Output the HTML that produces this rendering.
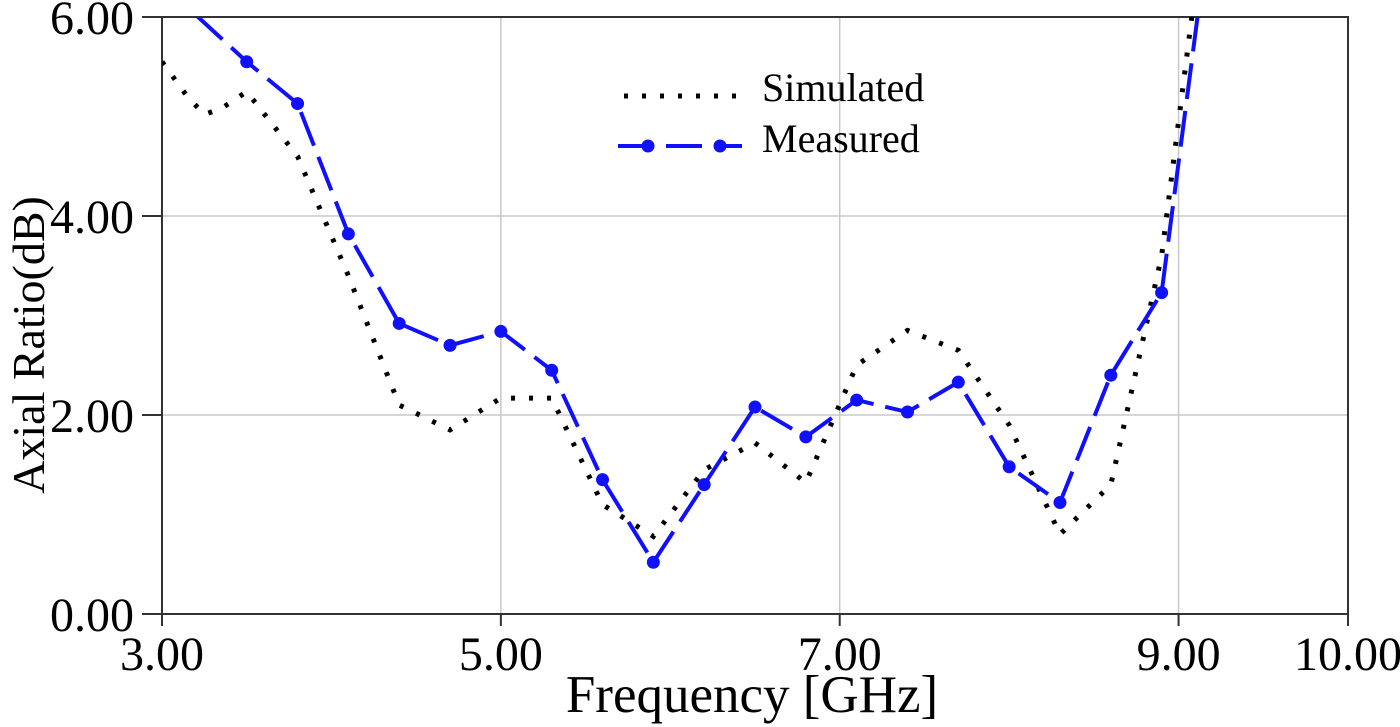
<!DOCTYPE html>
<html><head><meta charset="utf-8"><style>
body{margin:0;background:#fff;}
svg{display:block;font-family:"Liberation Serif",serif;}
</style></head><body>
<svg id="chart" width="1400" height="727">
<defs><clipPath id="plotclip"><rect x="162" y="17" width="1186" height="597"/></clipPath></defs>
<g id="grid"></g>
<g id="axes"></g>
<g id="series" clip-path="url(#plotclip)"></g>
<g id="legend">
<line x1="624" y1="96" x2="742" y2="96" stroke="#000" stroke-width="5" stroke-dasharray="4,14"/>
<text x="762" y="101" font-size="40">Simulated</text>
<line x1="618" y1="146" x2="742" y2="146" stroke="#1010ff" stroke-width="4" stroke-dasharray="36,12"/>
<circle cx="648" cy="146" r="6.5" fill="#1010ff"/>
<circle cx="720" cy="146" r="6.5" fill="#1010ff"/>
<text x="762" y="152" font-size="40">Measured</text>
</g>
<text x="752" y="712" font-size="53" text-anchor="middle">Frequency [GHz]</text>
<text transform="translate(44,345) rotate(-90)" font-size="46" text-anchor="middle">Axial Ratio(dB)</text>
</svg>
<script>
const xTicks=[3,5,7,9,10];
const xTickLabels=["3.00","5.00","7.00","9.00","10.00"];
const yTicks=[0,2,4,6];
const yTickLabels=["0.00","2.00","4.00","6.00"];
const simX=[3.0,3.15,3.25,3.35,3.5,3.8,4.1,4.4,4.7,5.0,5.3,5.6,5.9,6.2,6.5,6.8,7.1,7.4,7.7,8.0,8.3,8.6,8.9,9.1];
const simY=[5.55,5.2,5.02,5.08,5.25,4.6,3.4,2.1,1.85,2.17,2.17,1.1,0.78,1.45,1.72,1.32,2.5,2.85,2.65,1.9,0.8,1.3,3.6,6.3];
const measX=[3.2,3.5,3.8,4.1,4.4,4.7,5.0,5.3,5.6,5.9,6.2,6.5,6.8,7.1,7.4,7.7,8.0,8.3,8.6,8.9,9.15];
const measY=[6.02,5.55,5.13,3.82,2.92,2.7,2.84,2.45,1.35,0.52,1.3,2.08,1.78,2.15,2.03,2.33,1.48,1.12,2.4,3.23,6.5];
const X0=162,X1=1348,Y0=614,Y1=17;
const sx=v=>X0+(v-3)/(10-3)*(X1-X0);
const sy=v=>Y0-(v/6)*(Y0-Y1);
const NS="http://www.w3.org/2000/svg";
function mk(tag,attrs,parent){const e=document.createElementNS(NS,tag);for(const k in attrs)e.setAttribute(k,attrs[k]);parent.appendChild(e);return e;}
const grid=document.getElementById('grid'),axes=document.getElementById('axes'),series=document.getElementById('series');
xTicks.forEach((t,i)=>{
 if(t>3&&t<10){const g=mk('line',{x1:sx(t),x2:sx(t),y1:Y1,y2:Y0,stroke:'#c8c8c8','stroke-width':1.5},grid);
 
 }
 const tk=mk('line',{x1:sx(t),x2:sx(t),y1:Y0,y2:Y0+12,stroke:'#333','stroke-width':2},axes);
 
 
 const l=mk('text',{x:sx(t),y:670,'font-size':48,'text-anchor':'middle'},axes);l.textContent=xTickLabels[i];
 
 
});
yTicks.forEach((t,i)=>{
 if(t>0&&t<6){const g=mk('line',{x1:X0,x2:X1,y1:sy(t),y2:sy(t),stroke:'#c8c8c8','stroke-width':1.5},grid);
 
 }
 const tk=mk('line',{x1:X0-20,x2:X0,y1:sy(t),y2:sy(t),stroke:'#333','stroke-width':2},axes);
 
 
 const l=mk('text',{x:134,y:sy(t)+17,'font-size':48,'text-anchor':'end'},axes);l.textContent=yTickLabels[i];
 
 
});
const frame=mk('rect',{x:X0,y:Y1,width:X1-X0,height:Y0-Y1,fill:'none',stroke:'#333','stroke-width':2},axes);


const sim=mk('polyline',{points:simX.map((x,i)=>sx(x)+','+sy(simY[i])).join(' '),fill:'none',stroke:'#000','stroke-width':5,'stroke-dasharray':'4,14'},series);


const meas=mk('polyline',{points:measX.map((x,i)=>sx(x)+','+sy(measY[i])).join(' '),fill:'none',stroke:'#1010ff','stroke-width':4,'stroke-dasharray':'36,12'},series);


measX.forEach((x,i)=>{if(i===0||i===measX.length-1)return;
 const c=mk('circle',{cx:sx(x),cy:sy(measY[i]),r:6.5,fill:'#1010ff'},series);
 
 
});
</script>
</body></html>
